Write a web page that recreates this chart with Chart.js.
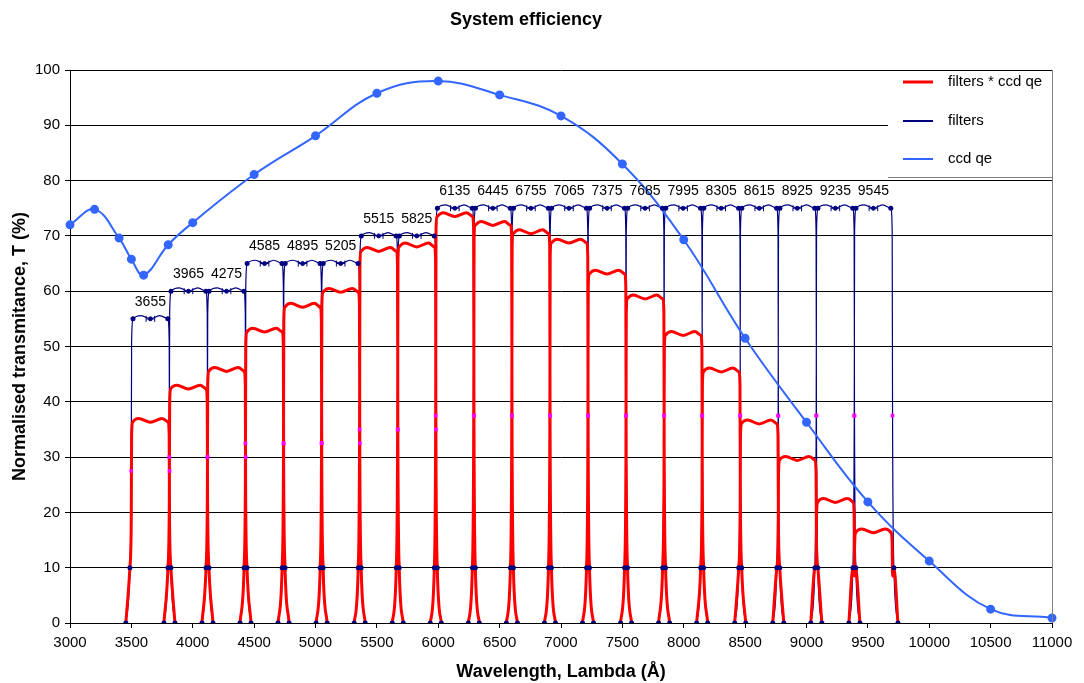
<!DOCTYPE html>
<html><head><meta charset="utf-8">
<script src="https://cdn.jsdelivr.net/npm/chart.js@4.4.1/dist/chart.umd.min.js"></script>
<style>html,body{margin:0;padding:0;background:#fff}#wrap{width:1084px;height:683px}</style>
</head><body><div id="wrap"><canvas id="c" width="1084" height="683"></canvas></div>
<script>
// ---- data ----
const filterCenters = [3655,3965,4275,4585,4895,5205,5515,5825,6135,6445,6755,7065,7375,7685,7995,8305,8615,8925,9235,9545];
const filterPeaks   = [55,60,60,65,65,65,70,70,75,75,75,75,75,75,75,75,75,75,75,75];
const productPeaks  = [37.0,43.0,46.2,53.3,57.8,60.5,67.9,68.7,74.2,72.6,71.1,69.4,63.8,59.3,52.7,46.1,36.7,30.1,22.5,17.0];
const qeWavelengths = [3000,3200,3400,3500,3600,3800,4000,4500,5000,5500,6000,6500,7000,7500,8000,8500,9000,9500,10000,10500,11000];
const qeValues      = [72.0,74.8,69.6,65.8,62.9,68.4,72.4,81.1,88.1,95.8,98.0,95.5,91.7,83.0,69.3,51.5,36.3,21.9,11.2,2.5,0.9];
const xTicks = [3000,3500,4000,4500,5000,5500,6000,6500,7000,7500,8000,8500,9000,9500,10000,10500,11000];
const yTicks = [0,10,20,30,40,50,60,70,80,90,100];
const seriesLabels = ['filters * ccd qe','filters','ccd qe'];
const titleText = 'System efficiency';
const xTitle = 'Wavelength, Lambda (Å)';
const yTitle = 'Normalised transmitance, T (%)';

// profile of one filter passband (offset from centre in Å, level kind)
const shapeKinds = ['zero','ten','half','knee','edge','ripple','mid','ripple','edge','knee','half','ten','zero'];
const filterDx   = [-200,-167,-156,-153,-142,-75,0,75,142,153,156,167,200];
const productDx  = [-200,-167,-156,-153,-145,-95,0,95,145,153,156,167,200];
const errHalf = 35;

const NAVY = '#000080', RED = '#ff0000', QE = '#3366ff', MAG = '#ff00ff';
const FONT = "'Liberation Sans', Arial, sans-serif";

function level(kind, peak, isProduct) {
  if (kind === 'zero') return 0;
  if (kind === 'ten') return 10;
  if (kind === 'half') return peak / 2;
  if (kind === 'knee') return peak - (isProduct ? 3 : 4);
  if (kind === 'edge') return isProduct ? peak - 0.7 : peak;
  if (kind === 'ripple') return isProduct ? peak : peak + 0.6;
  if (kind === 'mid') return isProduct ? peak - 0.7 : peak;
}

const filterPts = [], productPts = [], markerPts = [], markerStyle = [], markerColor = [], markerRadius = [];
const errPts = [], errStyle = [], errRot = [], errRad = [];
filterCenters.forEach((c, i) => {
  const P = filterPeaks[i], R = productPeaks[i];
  shapeKinds.forEach((k, j) => {
    filterPts.push({x: c + filterDx[j], y: level(k, P, false)});
    productPts.push({x: c + productDx[j], y: level(k, R, true)});
    if (k === 'zero' || k === 'ten' || k === 'edge') {
      markerPts.push({x: c + filterDx[j], y: level(k, P, false)});
      markerStyle.push('circle'); markerColor.push(NAVY); markerRadius.push(2.5);
    } else if (k === 'half') {
      markerPts.push({x: c + filterDx[j], y: level(k, P, false)});
      markerStyle.push('rect'); markerColor.push(MAG); markerRadius.push(2.6);
    }
  });
  filterPts.push({x: NaN, y: null});
  productPts.push({x: NaN, y: null});
  errPts.push({x: c - errHalf, y: P}, {x: c, y: P}, {x: c + errHalf, y: P}, {x: NaN, y: null});
  errStyle.push('line','circle','line','circle');
  errRot.push(90,0,90,0);
  errRad.push(3,2,3,0);
});
const qePts = qeWavelengths.map((w, i) => ({x: w, y: qeValues[i]}));

const frame = {
  id: 'frame',
  afterDatasetsDraw(chart) {
    const {ctx, chartArea: a, scales} = chart;
    ctx.save();
    // filter labels
    ctx.fillStyle = '#000';
    ctx.font = '14px ' + FONT;
    ctx.textAlign = 'center';
    ctx.textBaseline = 'middle';
    filterCenters.forEach((c, i) => {
      ctx.fillText(String(c), scales.x.getPixelForValue(c), scales.y.getPixelForValue(filterPeaks[i]) - 17);
    });
    // right border
    ctx.strokeStyle = '#808080';
    ctx.lineWidth = 1;
    ctx.beginPath();
    ctx.moveTo(Math.round(a.right) + 0.5, a.top);
    ctx.lineTo(Math.round(a.right) + 0.5, a.bottom);
    ctx.stroke();
    // legend box
    const lx = 888, top = Math.round(a.top), bot = 177, right = Math.round(a.right);
    ctx.fillStyle = '#fff';
    ctx.fillRect(lx, top + 1, right - lx, bot - top - 1);
    ctx.strokeStyle = '#808080';
    ctx.beginPath();
    ctx.moveTo(lx, bot + 0.5); ctx.lineTo(right + 1, bot + 0.5);
    ctx.stroke();
    const items = [[RED, 3], [NAVY, 2], [QE, 2]];
    const ys = [82, 121, 159];
    ctx.font = '15px ' + FONT;
    ctx.textAlign = 'left';
    items.forEach((it, i) => {
      ctx.strokeStyle = it[0]; ctx.lineWidth = it[1];
      ctx.beginPath(); ctx.moveTo(903, ys[i]); ctx.lineTo(933, ys[i]); ctx.stroke();
      ctx.fillStyle = '#000';
      ctx.fillText(seriesLabels[i], 948, ys[i]);
    });
    ctx.restore();
  }
};

new Chart(document.getElementById('c'), {
  type: 'line',
  data: {
    datasets: [
      {label: 'markers', data: markerPts, showLine: false, pointStyle: markerStyle, pointRadius: markerRadius,
       pointBackgroundColor: markerColor, pointBorderColor: markerColor, pointBorderWidth: 0, order: 0},
      {label: 'err', data: errPts, borderColor: NAVY, borderWidth: 1, pointStyle: errStyle, pointRotation: errRot,
       pointRadius: errRad, pointBackgroundColor: NAVY, pointBorderColor: NAVY, pointBorderWidth: 1, spanGaps: false, order: 1},
      {label: seriesLabels[0], data: productPts, borderColor: RED, borderWidth: 3, pointRadius: 0,
       cubicInterpolationMode: 'monotone', spanGaps: false, borderJoinStyle: 'round', order: 2},
      {label: seriesLabels[2], data: qePts, borderColor: QE, borderWidth: 2, pointRadius: 3.5,
       pointBackgroundColor: QE, pointBorderColor: QE, tension: 0.4, order: 3, clip: 6},
      {label: seriesLabels[1], data: filterPts, borderColor: NAVY, borderWidth: 1.2, pointRadius: 0,
       cubicInterpolationMode: 'monotone', spanGaps: false, order: 4}
    ]
  },
  options: {
    responsive: false,
    animation: false,
    devicePixelRatio: 1,
    layout: {padding: {left: 0, right: 32, top: 0, bottom: 0}},
    plugins: {
      legend: {display: false},
      tooltip: {enabled: false},
      title: {display: true, text: titleText, color: '#000',
              font: {family: FONT, size: 18, weight: 'bold'}, padding: {top: 9, bottom: 39.4}}
    },
    scales: {
      x: {
        type: 'linear', min: 3000, max: 11000,
        afterBuildTicks: s => { s.ticks = xTicks.map(v => ({value: v})); },
        afterFit: s => { s.height = 60; },
        ticks: {color: '#000', font: {family: FONT, size: 15}, maxRotation: 0, autoSkip: false, padding: 6,
                callback: v => String(v)},
        grid: {drawOnChartArea: false, drawTicks: true, tickLength: 5, color: '#000'},
        border: {color: '#000'},
        title: {display: true, text: xTitle, color: '#000', font: {family: FONT, size: 18, weight: 'bold'}, padding: {top: 0, bottom: 0}}
      },
      y: {
        min: 0, max: 100,
        afterBuildTicks: s => { s.ticks = yTicks.map(v => ({value: v})); },
        afterFit: s => { s.width = 70; },
        ticks: {color: '#000', font: {family: FONT, size: 15}, padding: 5, callback: v => String(v)},
        grid: {color: '#000', tickLength: 5},
        border: {color: '#000'},
        title: {display: true, text: yTitle, color: '#000', font: {family: FONT, size: 18, weight: 'bold'}, padding: {top: 9, bottom: 0}}
      }
    }
  },
  plugins: [frame]
});
</script>
</body></html>
